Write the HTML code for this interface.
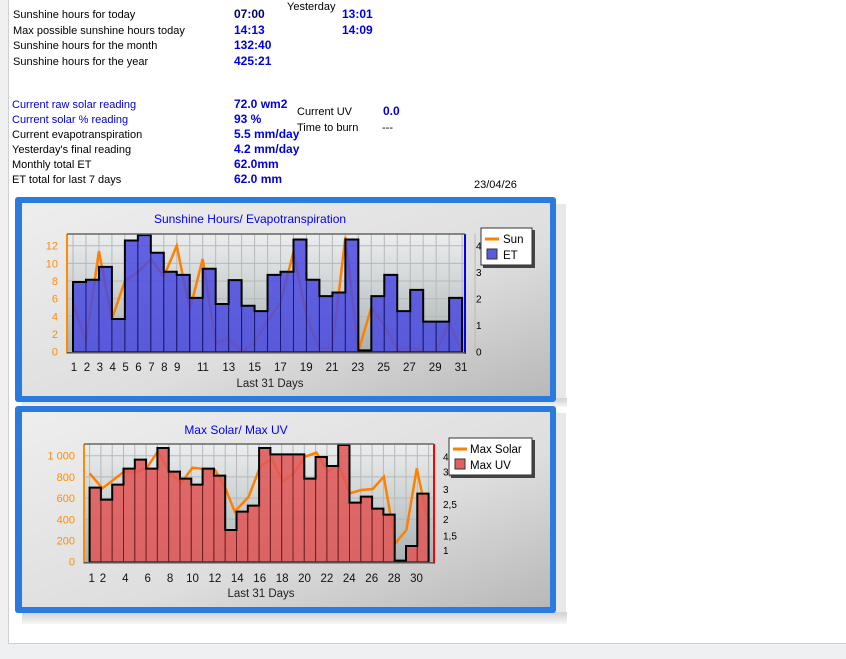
<!DOCTYPE html>
<html><head><meta charset="utf-8"><style>
html,body{margin:0;padding:0;background:#fff}
svg{display:block}
text{font-family:"Liberation Sans",sans-serif}
</style></head><body>
<svg id="s" width="846" height="659" xmlns="http://www.w3.org/2000/svg">
<defs>
<linearGradient id="pan" x1="0" y1="0" x2="1" y2="1"><stop offset="0" stop-color="#eeeeee"/><stop offset="0.6" stop-color="#dedede"/><stop offset="1" stop-color="#b8b8b8"/></linearGradient>
<linearGradient id="plot" x1="0" y1="0" x2="0" y2="1"><stop offset="0" stop-color="#eceeee"/><stop offset="1" stop-color="#a8b2b4"/></linearGradient>
<linearGradient id="sh" x1="0" y1="0" x2="0" y2="1"><stop offset="0" stop-color="#bbb"/><stop offset="1" stop-color="#f4f4f4"/></linearGradient>
</defs>
<rect x="0" y="0" width="8" height="659" fill="#eef0f2"/>
<rect x="0" y="644" width="846" height="15" fill="#eef0f2"/>
<line x1="8.5" y1="0" x2="8.5" y2="644" stroke="#d0d0d0"/>
<line x1="8" y1="643.5" x2="846" y2="643.5" stroke="#d0d0d0"/>
<g font-size="11" fill="#000">
<text x="13" y="18">Sunshine hours for today</text>
<text x="13" y="34">Max possible sunshine hours today</text>
<text x="13" y="49">Sunshine hours for the month</text>
<text x="13" y="65">Sunshine hours for the year</text>
<text x="12" y="108" fill="#0000cc">Current raw solar reading</text>
<text x="12" y="123" fill="#0000cc">Current solar % reading</text>
<text x="12" y="138">Current evapotranspiration</text>
<text x="12" y="153">Yesterday's final reading</text>
<text x="12" y="168">Monthly total ET</text>
<text x="12" y="183">ET total for last 7 days</text>
<text x="287" y="10">Yesterday</text>
<text x="297" y="115">Current UV</text>
<text x="297" y="131">Time to burn</text>
<text x="382" y="131">---</text>
<text x="474" y="188">23/04/26</text>
</g>
<g font-size="12" font-weight="bold" fill="#0000dd">
<text x="234" y="18" fill="#000066">07:00</text>
<text x="342" y="18">13:01</text>
<text x="234" y="34">14:13</text>
<text x="342" y="34">14:09</text>
<text x="234" y="49">132:40</text>
<text x="234" y="65">425:21</text>
<text x="234" y="108">72.0 wm2</text>
<text x="234" y="123">93 %</text>
<text x="234" y="138">5.5 mm/day</text>
<text x="234" y="153">4.2 mm/day</text>
<text x="234" y="168">62.0mm</text>
<text x="234" y="183">62.0 mm</text>
<text x="383" y="115">0.0</text>
</g>
<!-- panels -->
<rect x="22" y="398" width="545" height="9" fill="url(#sh)" opacity="0.7"/>
<rect x="556" y="204" width="10" height="198" fill="#d8d8d8" opacity="0.6"/>
<rect x="15" y="197" width="541" height="205" rx="3" fill="#2a7ae0"/>
<rect x="22" y="203" width="528" height="193" fill="url(#pan)"/>
<rect x="22" y="612" width="545" height="12" fill="url(#sh)" opacity="0.7"/>
<rect x="556" y="413" width="10" height="200" fill="#d8d8d8" opacity="0.6"/>
<rect x="15" y="406" width="541" height="207" rx="3" fill="#2a7ae0"/>
<rect x="22" y="412" width="528" height="195" fill="url(#pan)"/>
<text x="250" y="223" font-size="12" fill="#0000ee" text-anchor="middle">Sunshine Hours/ Evapotranspiration</text>
<text x="236" y="434" font-size="12" fill="#0000ee" text-anchor="middle">Max Solar/ Max UV</text>
<rect x="67" y="234" width="398" height="118" fill="url(#plot)"/>
<rect x="84" y="444" width="350" height="118" fill="url(#plot)"/>
<g id="g1"></g><g id="g2"></g>
<!-- legends -->
<rect x="483" y="230" width="52" height="38" fill="#444"/>
<rect x="481" y="228" width="51" height="37" fill="#fff" stroke="#333"/>
<line x1="485" y1="239" x2="499" y2="239" stroke="#ff8000" stroke-width="3"/>
<text x="503" y="243" font-size="11.5">Sun</text>
<rect x="487" y="249" width="10" height="10" fill="#5a5ae0" stroke="#333"/>
<text x="503" y="259" font-size="11.5">ET</text>
<rect x="451" y="440" width="84" height="38" fill="#444"/>
<rect x="449" y="438" width="83" height="37" fill="#fff" stroke="#333"/>
<line x1="453" y1="449" x2="467" y2="449" stroke="#ff8000" stroke-width="3"/>
<text x="470" y="453" font-size="11.5">Max Solar</text>
<rect x="455" y="459" width="10" height="10" fill="#e06060" stroke="#333"/>
<text x="470" y="469" font-size="11.5">Max UV</text>
<text x="270" y="387" font-size="11.5" text-anchor="middle" fill="#222">Last 31 Days</text>
<text x="261" y="597" font-size="11.5" text-anchor="middle" fill="#222">Last 31 Days</text>
</svg>
<script>
var NS="http://www.w3.org/2000/svg";
function el(p,t,a,txt){var e=document.createElementNS(NS,t);for(var k in a)e.setAttribute(k,a[k]);if(txt!=null)e.textContent=txt;p.appendChild(e);return e;}
var g=document.getElementById("g1");
var L=67,R=465,T=234,B=351.7,sc=8.83;
for(var i=0;i<=31;i++){var x=73+i*12.97;el(g,"line",{x1:x,y1:T,x2:x,y2:B,stroke:"#b8b8b8"});}
for(var v=0;v<=12;v+=2){var y=B-v*sc;el(g,"line",{x1:L,y1:y,x2:R,y2:y,stroke:"#b8b8b8"});el(g,"text",{x:58,y:y+4,"font-size":11,fill:"#ff8c00","text-anchor":"end"},v);}
for(var v=0;v<=4;v++){var y=B-v*26.5;el(g,"text",{x:476,y:y+4,"font-size":10,fill:"#000"},v);}
var sun=[5.5,1.1,11.4,3.7,8,9,10.5,8.5,12,4.7,10.5,1,1.5,0,1,3.5,5.5,11.3,4,0.3,0.5,13,0,5,3,0.2,0.5,0,0,3.3,0];
var pts=sun.map(function(v,i){return (73+i*12.97)+","+(B-v*sc)}).join(" ");
el(g,"polyline",{points:pts,fill:"none",stroke:"#ff8000","stroke-width":2.5});
var et=[7.9,8.15,9.6,3.7,12.6,13.2,11.2,9.05,8.7,6.1,9.4,5.4,8.1,5.2,4.6,8.7,9.05,12.7,8.15,6.3,6.7,12.7,0.15,6.3,8.7,4.6,7.0,3.4,3.4,6.1];
var d="M73,"+B;
et.forEach(function(v,i){var x=73+i*12.97,y=B-v*sc;el(g,"rect",{x:x,y:y,width:12.97,height:v*sc,fill:"#4a4ae0","fill-opacity":0.85,stroke:"#1a1a70","stroke-width":1});d+=" L"+x+","+y+" L"+(x+12.97)+","+y;});
d+=" L"+(73+30*12.97)+","+B;
el(g,"path",{d:d,fill:"none",stroke:"#000","stroke-width":2});
el(g,"line",{x1:L,y1:T,x2:L,y2:B+2,stroke:"#ff8c00","stroke-width":2});
el(g,"line",{x1:R,y1:T,x2:R,y2:B+2,stroke:"#0000ff","stroke-width":2});
el(g,"line",{x1:L,y1:T,x2:R,y2:T,stroke:"#666","stroke-width":1.5});
el(g,"line",{x1:L,y1:B+1,x2:R,y2:B+1,stroke:"#555","stroke-width":1.5});
[1,2,3,4,5,6,7,8,9,11,13,15,17,19,21,23,25,27,29,31].forEach(function(n){el(g,"text",{x:74+(n-1)*12.9,y:371,"font-size":11.5,"text-anchor":"middle",fill:"#111"},n);});
var g=document.getElementById("g2");
var L=84,R=434,T=444,B=561.7;
var x0=89.6,w=11.3;
for(var i=0;i<=30;i++){var x=x0+i*w;el(g,"line",{x1:x,y1:T,x2:x,y2:B,stroke:"#b8b8b8"});}
var ll=["0","200","400","600","800","1 000"];
for(var i=0;i<6;i++){var y=B-i*200*0.106;el(g,"line",{x1:L,y1:y,x2:R,y2:y,stroke:"#b8b8b8"});el(g,"text",{x:75,y:y+4,"font-size":11,fill:"#ff8c00","text-anchor":"end"},ll[i]);}
[["1",550],["1,5",535.7],["2",519],["2,5",504],["3",489],["3,5",471.7],["4",456.7]].forEach(function(a){el(g,"text",{x:443,y:a[1]+4,"font-size":10,fill:"#000"},a[0]);});
var ys=[205,250,200,203,188,140,200,235,188,192,195,255,320,275,185,160,230,205,155,143,200,180,265,255,252,215,415,375,190,360];
var xs=[222,258,318,350,382,412,445,477,509,540,572,603,627,666,698,730,761,792,823,855,887,917,948,980,1012,1043,1075,1106,1135,1168];
var p2=xs.map(function(x,i){return (x/2.79+10)+","+(ys[i]/3+405)}).join(" ");
el(g,"polyline",{points:p2,fill:"none",stroke:"#ff8000","stroke-width":2.5});
var by=[248,284,239,191,164,191,129,200,221,239,191,212,375,320,302,129,148,148,148,221,156,183,120,293,275,311,329,467,423,266];
var d="M"+x0+","+B;
by.forEach(function(yz,i){var x=x0+i*w,y=yz/3+405;el(g,"rect",{x:x,y:y,width:w,height:B-y,fill:"#e05858","fill-opacity":0.88,stroke:"#702020","stroke-width":1});d+=" L"+x+","+y+" L"+(x+w)+","+y;});
d+=" L"+(x0+30*w)+","+B;
el(g,"path",{d:d,fill:"none",stroke:"#000","stroke-width":2});
el(g,"line",{x1:L,y1:T,x2:L,y2:B+2,stroke:"#ff8c00","stroke-width":2});
el(g,"line",{x1:R,y1:T,x2:R,y2:B+2,stroke:"#ff0000","stroke-width":2});
el(g,"line",{x1:L,y1:T,x2:R,y2:T,stroke:"#666","stroke-width":1.5});
el(g,"line",{x1:L,y1:B+1,x2:R,y2:B+1,stroke:"#555","stroke-width":1.5});
[1,2,4,6,8,10,12,14,16,18,20,22,24,26,28,30].forEach(function(n){el(g,"text",{x:91.7+(n-1)*11.2,y:582,"font-size":11.5,"text-anchor":"middle",fill:"#111"},n);});
</script>
</body></html>
